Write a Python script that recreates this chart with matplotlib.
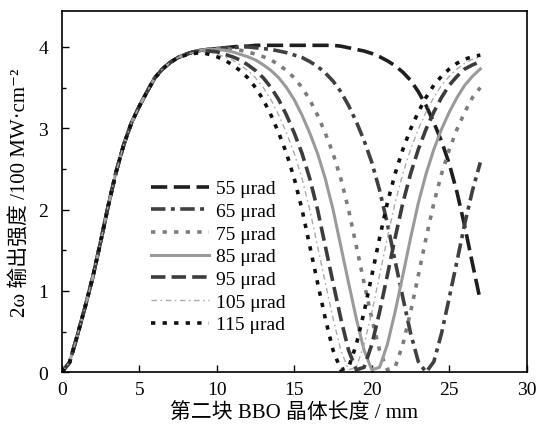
import matplotlib
matplotlib.use('Agg')
import matplotlib.pyplot as plt
from matplotlib.ticker import MultipleLocator

plt.rcParams['font.family'] = ['Liberation Serif', 'Noto Sans CJK SC', 'DejaVu Serif']

# common rise, x = 0 .. 7.5 step 0.5
x_rise = [0, 0.5, 1, 1.5, 2, 2.5, 3, 3.5, 4, 4.5, 5, 5.5, 6, 6.5, 7, 7.5]
y_rise = [0, 0.12, 0.45, 0.80, 1.17, 1.60, 2.05, 2.46, 2.80, 3.07, 3.27, 3.45,
          3.62, 3.73, 3.81, 3.87]

# x = 8 .. 27 step 0.5
x_tail = [8 + 0.5 * i for i in range(39)]

y_55 = [3.91, 3.94, 3.96, 3.97, 3.98, 3.99, 4.00, 4.01, 4.01,
        4.02, 4.02, 4.02, 4.02, 4.02, 4.02, 4.02, 4.02, 4.02, 4.02, 4.02,
        4.01, 3.99, 3.97, 3.95, 3.92, 3.88, 3.83, 3.77, 3.69, 3.59, 3.45,
        3.28, 3.07, 2.84, 2.56, 2.21, 1.79, 1.33, 0.88]
y_65 = [3.91, 3.94, 3.96, 3.97, 3.98, 3.99, 3.99, 4.00, 4.00, 3.99, 3.98, 3.97,
        3.95, 3.93, 3.90, 3.87, 3.82, 3.76, 3.68, 3.58, 3.45, 3.28, 3.08, 2.85,
        2.58, 2.24, 1.83, 1.37, 0.92, 0.48, 0.13, 0.00, 0.13, 0.48, 0.92, 1.37,
        1.83, 2.24, 2.58]
y_75 = [3.91, 3.94, 3.96, 3.97, 3.98, 3.98, 3.97, 3.96, 3.94, 3.91, 3.88, 3.84,
        3.78, 3.71, 3.62, 3.50, 3.35, 3.16, 2.94, 2.69, 2.38, 2.00, 1.55, 1.10,
        0.66, 0.27, 0.03, 0.06, 0.34, 0.74, 1.19, 1.65, 2.08, 2.44, 2.74, 2.99,
        3.20, 3.38, 3.50]
y_85 = [3.91, 3.94, 3.96, 3.97, 3.97, 3.96, 3.94, 3.91, 3.88, 3.84, 3.78, 3.71,
        3.62, 3.50, 3.35, 3.16, 2.94, 2.69, 2.38, 2.00, 1.55, 1.10, 0.66, 0.27,
        0.03, 0.06, 0.34, 0.74, 1.19, 1.65, 2.08, 2.44, 2.74, 2.99, 3.20, 3.38,
        3.53, 3.64, 3.73]
y_95 = [3.91, 3.94, 3.95, 3.95, 3.94, 3.91, 3.88, 3.84, 3.78, 3.71, 3.62, 3.50,
        3.35, 3.16, 2.94, 2.69, 2.38, 2.00, 1.55, 1.10, 0.66, 0.27, 0.03, 0.06,
        0.34, 0.74, 1.19, 1.65, 2.08, 2.44, 2.74, 2.99, 3.20, 3.38, 3.53, 3.64,
        3.73, 3.78, 3.82]
y_105 = [3.91, 3.93, 3.94, 3.93, 3.91, 3.88, 3.84, 3.78, 3.71, 3.62, 3.50, 3.35,
         3.16, 2.94, 2.69, 2.38, 2.00, 1.55, 1.10, 0.66, 0.27, 0.03, 0.06, 0.34,
         0.74, 1.19, 1.65, 2.08, 2.44, 2.74, 2.99, 3.20, 3.38, 3.53, 3.64, 3.73,
         3.80, 3.85, 3.88]
y_115 = [3.90, 3.92, 3.93, 3.91, 3.88, 3.84, 3.78, 3.71, 3.62, 3.50, 3.35, 3.16,
         2.94, 2.69, 2.38, 2.00, 1.55, 1.10, 0.66, 0.27, 0.03, 0.06, 0.34, 0.74,
         1.19, 1.65, 2.08, 2.44, 2.74, 2.99, 3.20, 3.38, 3.53, 3.64, 3.73, 3.80,
         3.85, 3.88, 3.90]

labels = ['55 μrad', '65 μrad', '75 μrad', '85 μrad', '95 μrad', '105 μrad', '115 μrad']
series = [y_55, y_65, y_75, y_85, y_95, y_105, y_115]

styles = [
    dict(color='#1e1e1e', lw=2.6, dashes=(4.5, 1.8)),
    dict(color='#404040', lw=2.6, dashes=(4.0, 1.5, 1.1, 1.5)),
    dict(color='#7c7c7c', lw=2.6, dashes=(1.2, 2.0)),
    dict(color='#9a9a9a', lw=2.2, linestyle='-'),
    dict(color='#3c3c3c', lw=2.6, dashes=(4.0, 1.7)),
    dict(color='#ababab', lw=1.0, dashes=(4.0, 2.5, 1.2, 2.5)),
    dict(color='#111111', lw=2.6, dashes=(1.2, 2.0)),
]

fig = plt.figure(figsize=(5.42, 4.35), dpi=100)
ax = fig.add_axes([0.114, 0.142, 0.858, 0.83])

for ys, lab, st in zip(series, labels, styles):
    ax.plot(x_rise + x_tail, y_rise + ys, label=lab, **st)

ax.set_xlim(0, 30)
ax.set_ylim(0, 4.44)
ax.xaxis.set_major_locator(MultipleLocator(5))
ax.yaxis.set_major_locator(MultipleLocator(1))
ax.yaxis.set_minor_locator(MultipleLocator(0.5))
ax.tick_params(direction='in', labelsize=14, length=5, width=1, top=False, right=False)
ax.tick_params(axis='y', pad=10)
ax.tick_params(axis='x', pad=6)
ax.tick_params(which='minor', direction='in', length=3, width=1)
for sp in ax.spines.values():
    sp.set_linewidth(1.2)

ax.set_xlabel('第二块 BBO 晶体长度 / mm', fontsize=15, labelpad=3)
ax.set_ylabel('2ω 输出强度 /100 MW·cm⁻²', fontsize=15, labelpad=6)

ax.legend(loc='upper left', bbox_to_anchor=(0.17, 0.56), frameon=False,
          fontsize=14, handlelength=3.0, handletextpad=0.35, labelspacing=0.26,
          borderpad=0)

fig.savefig('out.png', dpi=100)
